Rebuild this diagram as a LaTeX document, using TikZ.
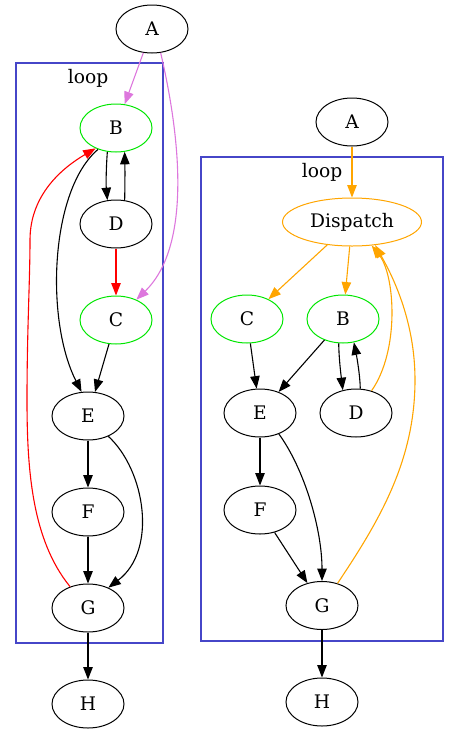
\documentclass[tikz,border=0pt]{standalone}
\usepackage{fontspec}
\setmainfont{DejaVu Serif}
\usetikzlibrary{shapes.geometric,arrows.meta}
\definecolor{gvgreen}{RGB}{0,230,0}
\definecolor{gvorange}{RGB}{255,165,0}
\definecolor{gvviolet}{RGB}{221,119,221}
\definecolor{gvred}{RGB}{255,0,0}
\definecolor{gvblue}{RGB}{70,70,200}
\tikzset{
  gnode/.style={ellipse,draw=black,line width=1pt,minimum width=72pt,minimum height=48pt,inner sep=0pt,font=\fontsize{18.67}{22}\selectfont},
  grn/.style={gnode,draw=gvgreen},
  wide/.style={gnode,draw=gvorange,minimum width=139pt},
  cluster/.style={draw=gvblue,line width=1.2pt},
  clabel/.style={font=\fontsize{18.67}{22}\selectfont,inner sep=0pt},
  edge/.style={line width=1.1pt,-{Triangle[length=12.5pt,width=9.5pt]}},
}
\begin{document}
\begin{tikzpicture}[x=1pt,y=-1pt]
\useasboundingbox (0,0) rectangle (460,732);
% ---- left graph ----
\draw[cluster] (16,63) rectangle (163,643);
\node[clabel] (loopL) at (88,78) {loop};
\node[gnode] (lA) at (152,29) {A};
\node[grn] (lB) at (116,128) {B};
\node[gnode] (lD) at (116,224) {D};
\node[grn] (lC) at (116,320) {C};
\node[gnode] (lE) at (88,416) {E};
\node[gnode] (lF) at (88,512) {F};
\node[gnode] (lG) at (88,608) {G};
\node[gnode] (lH) at (88,704) {H};
\draw[edge,gvviolet] (lA) -- (lB);
\draw[edge,gvviolet] (lA.-70) .. controls (174,110) and (198,240) .. (lC.45);
\draw[edge] (lB.-110) .. controls (106,170) and (106,185) .. (lD.110);
\draw[edge] (lD.70) .. controls (125,185) and (125,170) .. (lB.-70);
\draw[edge,gvred] (lD) -- (lC);
\draw[edge] (lB.-130) .. controls (50,190) and (45,320) .. (lE.105);
\draw[edge] (lC) -- (lE);
\draw[edge] (lE) -- (lF);
\draw[edge] (lE.-45) .. controls (145,470) and (158,550) .. (lG.45);
\draw[edge] (lF) -- (lG);
\draw[edge,gvred] (lG.130) .. controls (32,540) and (27,470) .. (27,400) .. controls (27,330) and (30,280) .. (30,240) .. controls (30,195) and (62,168) .. (lB.-135);
\draw[edge] (lG) -- (lH);
% ---- right graph ----
\draw[cluster] (201,157) rectangle (443,641);
\node[clabel] (loopR) at (322,172) {loop};
\node[gnode] (rA) at (352,122) {A};
\node[wide] (rDi) at (352,222) {Dispatch};
\node[grn] (rC) at (247,319) {C};
\node[grn] (rB) at (343,319) {B};
\node[gnode] (rE) at (260,413) {E};
\node[gnode] (rD) at (356,413) {D};
\node[gnode] (rF) at (260,510) {F};
\node[gnode] (rG) at (322,605.5) {G};
\node[gnode] (rH) at (322,702) {H};
\draw[edge,gvorange] (rA) -- (rDi);
\draw[edge,gvorange] (rDi) -- (rC);
\draw[edge,gvorange] (rDi) -- (rB);
\draw[edge] (rC) -- (rE);
\draw[edge] (rB) -- (rE);
\draw[edge] (rB.-100) .. controls (339,360) and (341,375) .. (rD.120);
\draw[edge] (rD.80) .. controls (360,375) and (357,358) .. (rB.-65);
\draw[edge,gvorange] (rD.55) .. controls (400,350) and (395,275) .. (rDi.-50);
\draw[edge,gvorange] (rG.55) .. controls (380,520) and (415,460) .. (415,380) .. controls (415,320) and (392,275) .. (rDi.-45);
\draw[edge] (rE) -- (rF);
\draw[edge] (rE.-48) .. controls (305,470) and (322,530) .. (rG.north);
\draw[edge] (rF) -- (rG);
\draw[edge] (rG) -- (rH);
\end{tikzpicture}
\end{document}
